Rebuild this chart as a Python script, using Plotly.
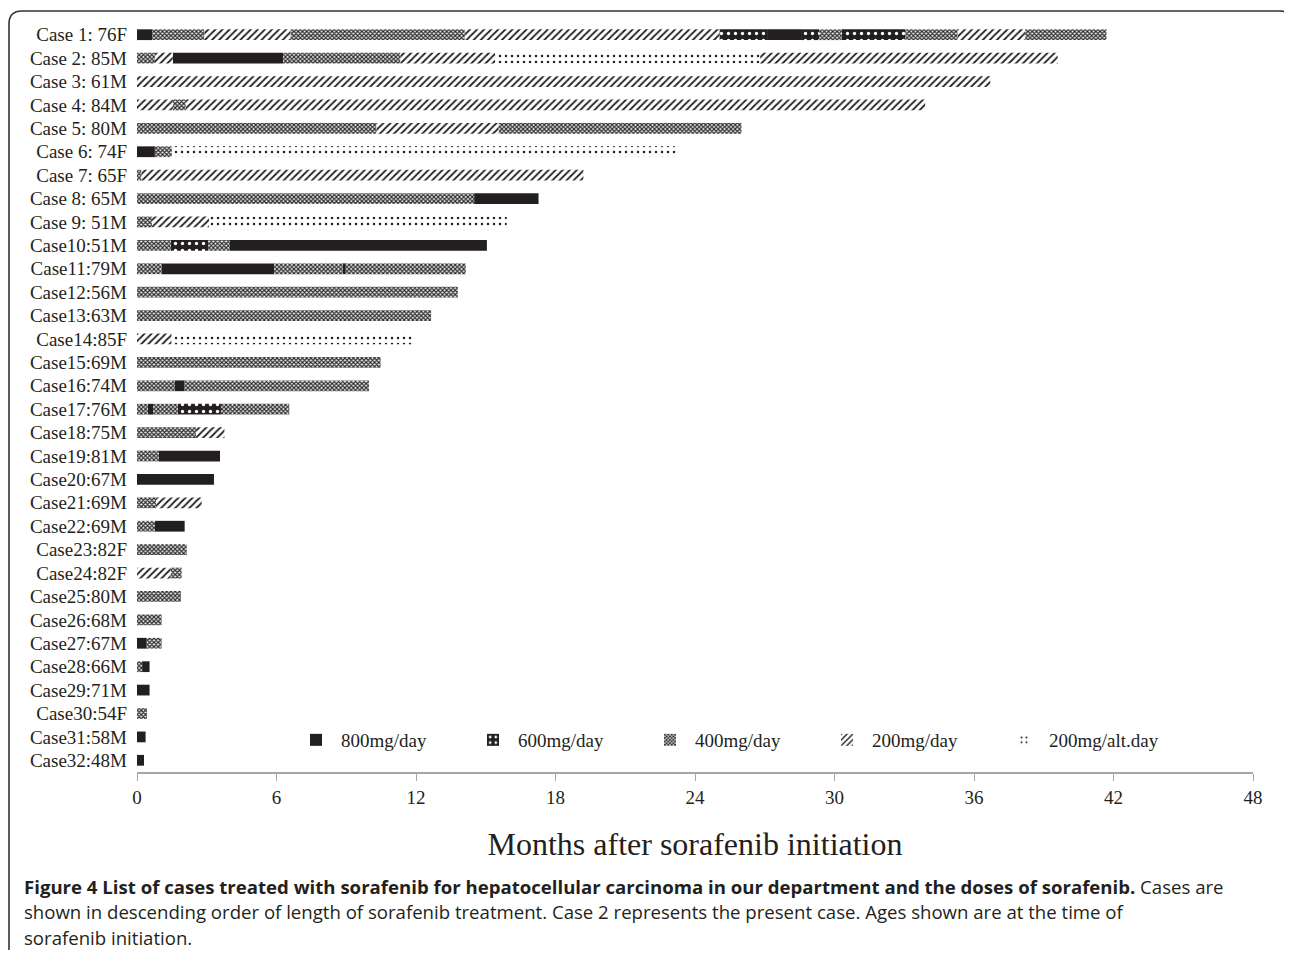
import plotly.graph_objects as go

cases = ["Case 1: 76F", "Case 2: 85M", "Case 3: 61M", "Case 4: 84M", "Case 5: 80M",
         "Case 6: 74F", "Case 7: 65F", "Case 8: 65M", "Case 9: 51M", "Case10:51M",
         "Case11:79M", "Case12:56M", "Case13:63M", "Case14:85F", "Case15:69M",
         "Case16:74M", "Case17:76M", "Case18:75M", "Case19:81M", "Case20:67M",
         "Case21:69M", "Case22:69M", "Case23:82F", "Case24:82F", "Case25:80M",
         "Case26:68M", "Case27:67M", "Case28:66M", "Case29:71M", "Case30:54F",
         "Case31:58M", "Case32:48M"]

# dose of each consecutive treatment segment, per case
segment_doses = [
    ["800", "400", "200", "400", "200", "600", "800", "600", "400", "600", "400", "200", "400"],
    ["400", "200", "800", "400", "200", "alt", "200"],
    ["200"],
    ["200", "400", "200"],
    ["400", "200", "400"],
    ["800", "400", "alt"],
    ["400", "200"],
    ["400", "800"],
    ["400", "200", "alt"],
    ["400", "600", "400", "800"],
    ["400", "800", "400", "800", "400"],
    ["400"],
    ["400"],
    ["200", "alt"],
    ["400"],
    ["400", "800", "400"],
    ["400", "800", "400", "600", "400"],
    ["400", "200"],
    ["400", "800"],
    ["800"],
    ["400", "200"],
    ["400", "800"],
    ["400"],
    ["200", "400"],
    ["400"],
    ["400"],
    ["800", "400"],
    ["400", "800"],
    ["800"],
    ["400"],
    ["800"],
    ["800"],
]

# month at which each segment ends (cumulative), per case
segment_ends = [
    [0.65, 2.9, 6.6, 14.1, 25.05, 27.1, 28.6, 29.35, 30.3, 33.05, 35.3, 38.2, 41.7],
    [0.77, 1.54, 6.29, 11.33, 15.4, 26.8, 39.6],
    [36.7],
    [1.54, 2.1, 33.9],
    [10.3, 15.55, 26.0],
    [0.77, 1.5, 23.3],
    [0.19, 19.2],
    [14.5, 17.27],
    [0.65, 3.1, 15.9],
    [1.45, 3.06, 4.0, 15.05],
    [1.07, 5.9, 8.84, 8.98, 14.14],
    [13.8],
    [12.65],
    [1.49, 11.93],
    [10.48],
    [1.63, 2.05, 9.98],
    [0.46, 0.70, 1.75, 3.61, 6.55],
    [2.54, 3.76],
    [0.93, 3.57],
    [3.31],
    [0.82, 2.78],
    [0.77, 2.05],
    [2.14],
    [1.45, 1.92],
    [1.89],
    [1.06],
    [0.42, 1.06],
    [0.22, 0.54],
    [0.54],
    [0.43],
    [0.37],
    [0.30],
]

dose_keys = ["800", "600", "400", "200", "alt"]
dose_names = ["800mg/day", "600mg/day", "400mg/day", "200mg/day", "200mg/alt.day"]

x_ticks = [0, 6, 12, 18, 24, 30, 36, 42, 48]

DARK = "#231f20"
patterns = {
    "800": dict(shape="", fgcolor=DARK, bgcolor=DARK),
    "600": dict(shape=".", fgcolor="white", bgcolor=DARK, size=7, solidity=0.18),
    "400": dict(shape="x", fgcolor="#2a2a2a", bgcolor="#eeeeee", size=3, solidity=0.62),
    "200": dict(shape="/", fgcolor=DARK, bgcolor="white", size=5, solidity=0.35),
    "alt": dict(shape=".", fgcolor=DARK, bgcolor="white", size=6, solidity=0.14),
}
colors = {"800": DARK, "600": DARK, "400": "#7a7a7a", "200": "white", "alt": "white"}

fig = go.Figure()
for key, name in zip(dose_keys, dose_names):
    ys, bases, lens = [], [], []
    for case, doses, ends in zip(cases, segment_doses, segment_ends):
        start = 0.0
        for d, e in zip(doses, ends):
            if d == key:
                ys.append(case)
                bases.append(start)
                lens.append(e - start)
            start = e
    fig.add_trace(go.Bar(
        y=ys, x=lens, base=bases, orientation="h", name=name,
        width=0.46,
        marker=dict(color=colors[key], line=dict(width=0),
                    pattern=dict(fillmode="replace", **patterns[key])),
    ))

# the page body adds an 8px margin; the figure is sized to fit the window exactly
OFF = 8
W, H = 1292 - 2 * OFF, 958 - 2 * OFF
L, R, T, B = 137, 1253, 23, 772   # plot area in page pixels


def px(x):
    return (x - L) / (R - L)


def py(y):
    return (B - y) / (B - T)


serif = "Liberation Serif"
sans = "Open Sans"

fig.update_layout(
    width=W, height=H,
    margin=dict(l=L - OFF, r=W - (R - OFF), t=T - OFF, b=H - (B - OFF), pad=0),
    barmode="overlay",
    plot_bgcolor="white", paper_bgcolor="white",
    font=dict(family=serif, color=DARK),
    showlegend=True,
    legend=dict(orientation="h", x=px(291), y=py(740), xanchor="left", yanchor="middle",
                font=dict(family=serif, size=19, color=DARK),
                entrywidth=122, entrywidthmode="pixels",
                bgcolor="rgba(0,0,0,0)", traceorder="normal", itemwidth=40),
    xaxis=dict(range=[0, 48], tickvals=x_ticks, ticktext=[str(t) for t in x_ticks],
               ticks="outside", ticklen=7, tickcolor="#a6a6a6", tickwidth=1,
               showline=True, linecolor="#a6a6a6", linewidth=1.5,
               showgrid=False, zeroline=False,
               tickfont=dict(family=serif, size=19, color=DARK),
               title=dict(text="Months after sorafenib initiation",
                          font=dict(family=serif, size=32, color=DARK), standoff=26)),
    yaxis=dict(categoryorder="array", categoryarray=cases, range=[31.5, -0.5],
               showgrid=False, zeroline=False, showline=False, ticks="",
               tickfont=dict(family=serif, size=19, color=DARK), ticklabelstandoff=9),
)

cap_lines = [
    "<b>Figure 4 List of cases treated with sorafenib for hepatocellular carcinoma in our department and the doses of sorafenib.</b> Cases are",
    "shown in descending order of length of sorafenib treatment. Case 2 represents the present case. Ages shown are at the time of",
    "sorafenib initiation.",
]
for i, line in enumerate(cap_lines):
    fig.add_annotation(text=line, xref="paper", yref="paper", x=px(22), y=py(886 + 25.5 * i),
                       xanchor="left", yanchor="middle", showarrow=False, align="left",
                       font=dict(family=sans, size=18.6, color=DARK))

# rounded frame around the figure
path = (f"M {px(9)},{py(970)} L {px(9)},{py(24)} Q {px(9)},{py(11)} {px(22)},{py(11)} "
        f"L {px(1280)},{py(11)} Q {px(1289)},{py(11)} {px(1292)},{py(17)}")
fig.add_shape(type="path", path=path, xref="paper", yref="paper",
              line=dict(color="#333333", width=1.6))

fig.write_html("out.html")
